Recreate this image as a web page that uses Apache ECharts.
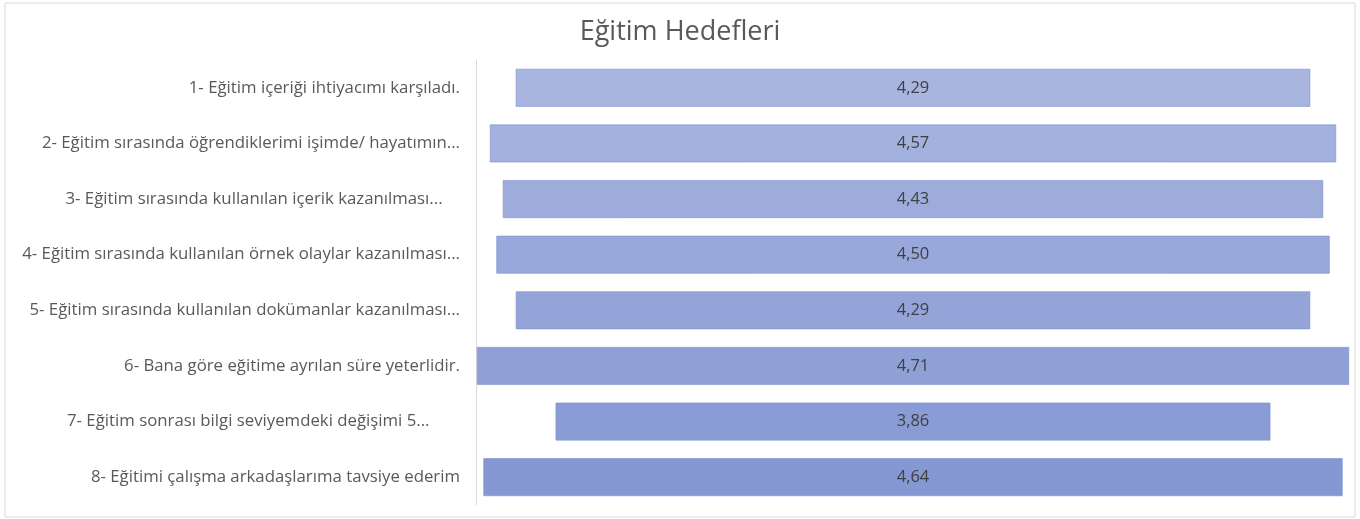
<!DOCTYPE html>
<html>
<head>
<meta charset="utf-8">
<script src="https://cdn.jsdelivr.net/npm/echarts@6/dist/echarts.min.js"></script>
<style>
  html, body { margin: 0; padding: 0; background: #fff; }
  #chart { width: 1360px; height: 519px; }
</style>
</head>
<body>
<div id="chart"></div>
<script>
// kategori etiketleri (trailing spaces kept like the original)
var categories = [
  "1- Eğitim içeriği ihtiyacımı karşıladı.",
  "2- Eğitim sırasında öğrendiklerimi işimde/ hayatımın...",
  "3- Eğitim sırasında kullanılan içerik kazanılması...    ",
  "4- Eğitim sırasında kullanılan örnek olaylar kazanılması...",
  "5- Eğitim sırasında kullanılan dokümanlar kazanılması...",
  "6- Bana göre eğitime ayrılan süre yeterlidir.",
  "7- Eğitim sonrası bilgi seviyemdeki değişimi 5...       ",
  "8- Eğitimi çalışma arkadaşlarıma tavsiye ederim"
];
var scores = [4.29, 4.57, 4.43, 4.50, 4.29, 4.71, 3.86, 4.64];
var barColors = ["#a7b5df", "#a2b1dd", "#9dacdb", "#98a8da", "#94a4d8", "#8fa0d7", "#8a9cd6", "#8598d4"];
var axisMax = 4.72;

var chart = echarts.init(document.getElementById("chart"));

// invisible spacer so bars sit centred
var spacer = scores.map(function (v) { return (axisMax - v) / 2; });
var barData = scores.map(function (v, i) {
  return {
    value: v,
    itemStyle: { color: barColors[i], borderColor: "#7d90cc", borderWidth: 0.6 }
  };
});

chart.setOption({
  animation: false,
  title: {
    text: "Eğitim Hedefleri",
    left: "center",
    top: 14,
    textStyle: { color: "#595959", fontSize: 27, fontWeight: "normal", fontFamily: "Open Sans" }
  },
  graphic: [{
    type: "rect",
    shape: { x: 5, y: 3, width: 1350, height: 514 },
    style: { fill: "none", stroke: "#d9d9d9", lineWidth: 1 },
    silent: true
  }],
  grid: { left: 476, right: 10, top: 60, bottom: 14 },
  xAxis: {
    type: "value",
    min: 0,
    max: axisMax,
    show: false
  },
  yAxis: {
    type: "category",
    inverse: true,
    data: categories,
    axisLine: { show: true, lineStyle: { color: "#d9d9d9", width: 1 } },
    axisTick: { show: false },
    axisLabel: {
      color: "#595959",
      fontSize: 16.8,
      fontFamily: "Open Sans",
      margin: 16
    }
  },
  series: [
    {
      name: "spacer",
      type: "bar",
      stack: "total",
      silent: true,
      itemStyle: { color: "transparent" },
      data: spacer
    },
    {
      name: "Ortalama",
      type: "bar",
      stack: "total",
      barCategoryGap: "32%",
      label: {
        show: true,
        position: "inside",
        color: "#404040",
        fontSize: 16.5,
        fontFamily: "Open Sans",
        formatter: function (p) { return p.value.toFixed(2).replace(".", ","); }
      },
      data: barData
    }
  ]
});
</script>
</body>
</html>
